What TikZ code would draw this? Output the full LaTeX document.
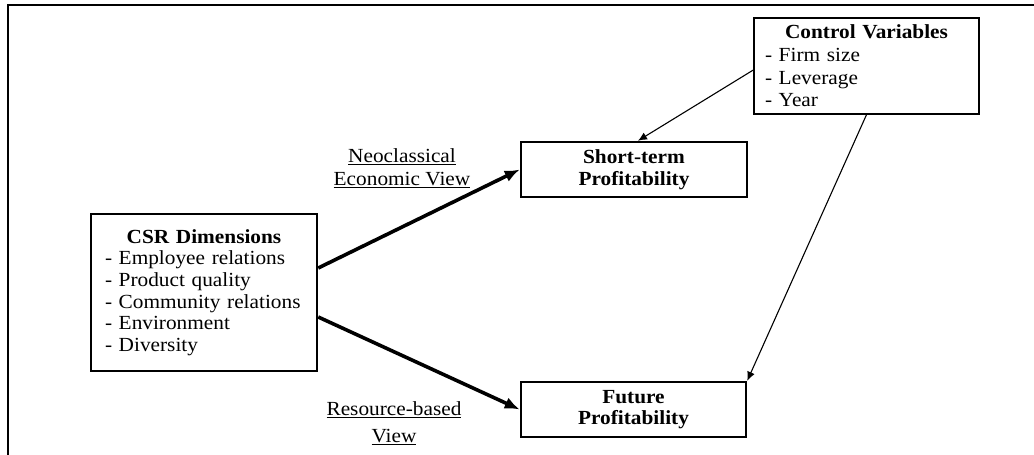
\documentclass[tikz,border=0pt]{standalone}
\usepackage{fontspec}
\setmainfont{Liberation Serif}[FakeStretch=1.065]
\usepackage{tikz}
\usetikzlibrary{arrows.meta, positioning}

\begin{document}
\begin{tikzpicture}[x=1pt, y=-1pt,
    boite/.style={draw, line width=2.5pt, inner sep=0pt, fill=white},
    fleche/.style={line width=3.6pt, -{Latex[length=15pt,width=12pt]}},
    fine/.style={line width=1.1pt, -{Latex[length=9pt,width=8pt]}},
    etiquette/.style={align=center, inner sep=0pt}]
    \fontsize{20}{21.7}\selectfont
    \useasboundingbox[fill=white] (0,0) rectangle (1034,455);

    % Cadre
    \draw[line width=2.5pt] (1034,5) -- (8,5) -- (8,455);

    % Boites
    \node[boite, minimum width=226pt, minimum height=157pt, text width=198pt] (csr) at (204,292.5)
        {\centering\textbf{CSR Dimensions}\par\raggedright
         - Employee relations\\ - Product quality\\ - Community relations\\ - Environment\\ - Diversity};
    \node[boite, line width=1.4pt, minimum width=225pt, minimum height=96pt, text width=203pt] (ctrl) at (866.5,66)
        {\fontsize{20}{23}\selectfont\centering\textbf{Control Variables}\par\raggedright
         - Firm size\\ - Leverage\\ - Year};
    \node[boite, minimum width=226pt, minimum height=55pt, align=center] (court) at (634,169.5)
        {\textbf{Short-term}\\ \textbf{Profitability}};
    \node[boite, minimum width=225pt, minimum height=55pt, align=center] (futur) at (633.5,409.5)
        {\textbf{Future}\\ \textbf{Profitability}};

    % Fleches
    \draw[fleche] ([yshift=24.5pt]csr.east) -- (court.west);
    \draw[fleche] ([yshift=-24.5pt]csr.east) -- (futur.west);
    \draw[fine] ([yshift=-4pt]ctrl.west) -- ([xshift=4pt]court.north);
    \draw[fine] (ctrl.south) -- (futur.north east);

    % Labels
    \node[etiquette] (neo) at (402,168) {\underline{Neoclassical}\\[1pt] \underline{Economic View}};
    \node[etiquette] (res) at (394,423) {\underline{Resource-based}\\[5pt] \underline{View}};
\end{tikzpicture}
\end{document}
